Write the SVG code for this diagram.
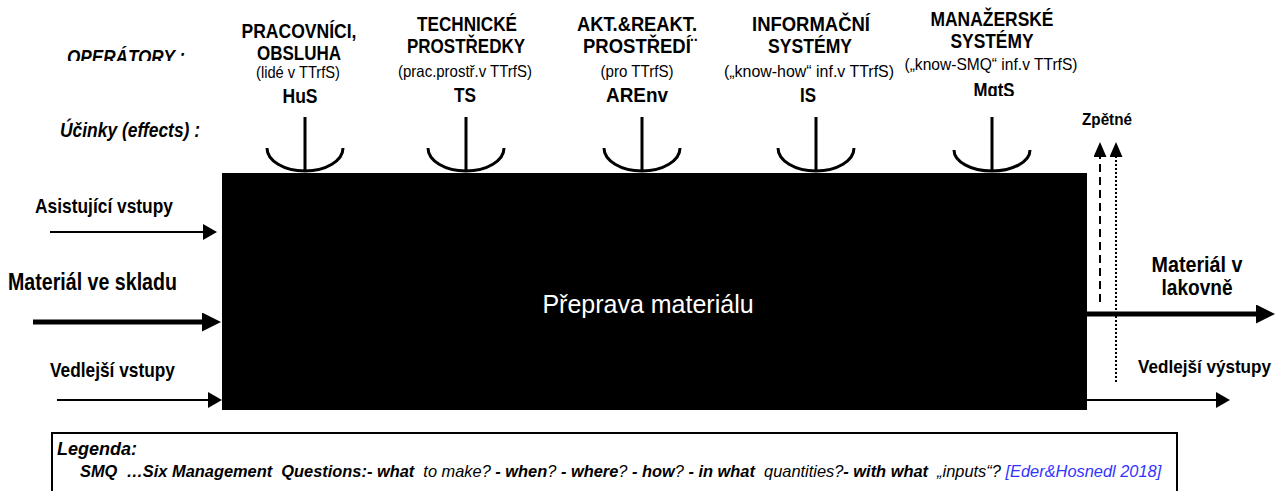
<svg xmlns="http://www.w3.org/2000/svg" width="1284" height="491" viewBox="0 0 1284 491">
<style>
text{font-family:"Liberation Sans",Arial,sans-serif;fill:#000}
.h{font-weight:bold;font-size:20px;text-anchor:middle}
.s{font-size:16.5px;text-anchor:middle}
.lbl{font-weight:bold;font-size:21px}
.it{font-style:italic;font-weight:bold;font-size:20px}
.eff{fill:none;stroke:#000;stroke-width:3}
.thin{stroke:#000;stroke-width:2;fill:none}
.thick{stroke:#000;stroke-width:5;fill:none}
.leg{font-size:16.4px;font-style:italic}
.b{font-weight:bold}
</style>
<defs>
<marker id="ah" viewBox="0 0 14 16" refX="10" refY="8" markerWidth="14" markerHeight="16" orient="auto" markerUnits="userSpaceOnUse"><path d="M0,0 L14,8 L0,16 z" fill="#000"/></marker>
<marker id="ahT" viewBox="0 0 19 19" refX="13" refY="9.5" markerWidth="19" markerHeight="19" orient="auto" markerUnits="userSpaceOnUse"><path d="M0,0 L19,9.5 L0,19 z" fill="#000"/></marker>
<marker id="ahF" viewBox="0 0 15 13" refX="11" refY="6.5" markerWidth="15" markerHeight="13" orient="auto" markerUnits="userSpaceOnUse"><path d="M0,0 L15,6.5 L0,13 z" fill="#000"/></marker>
<clipPath id="cOp"><rect x="0" y="0" width="220" height="61"/></clipPath>
<clipPath id="cMg"><rect x="880" y="0" width="220" height="96"/></clipPath>
</defs>

<g id="labels-left">
<text class="it" x="67" y="64" textLength="118" lengthAdjust="spacingAndGlyphs" clip-path="url(#cOp)">OPERÁTORY :</text>
<text class="it" x="60" y="137" textLength="140" lengthAdjust="spacingAndGlyphs">Účinky (effects) :</text>
</g>

<g id="node-process">
<rect x="222" y="173" width="865" height="237" fill="#000"/>
<text x="648" y="313" style="fill:#fff;font-size:25px" text-anchor="middle">Přeprava materiálu</text>
</g>

<g id="node-HuS">
<text class="h" x="299" y="38" textLength="115" lengthAdjust="spacingAndGlyphs">PRACOVNÍCI,</text>
<text class="h" x="299" y="60" textLength="84" lengthAdjust="spacingAndGlyphs">OBSLUHA</text>
<text class="s" x="298" y="78" textLength="84" lengthAdjust="spacingAndGlyphs">(lidé v TTrfS)</text>
<text class="h" x="300" y="103" textLength="35" lengthAdjust="spacingAndGlyphs">HuS</text>
<path class="eff" d="M305,117 V171 M267,148 A38,23 0 0 0 343,148"/>
</g>

<g id="node-TS">
<text class="h" x="467" y="31" textLength="100" lengthAdjust="spacingAndGlyphs">TECHNICKÉ</text>
<text class="h" x="466" y="53" textLength="118" lengthAdjust="spacingAndGlyphs">PROSTŘEDKY</text>
<text class="s" x="465" y="77" textLength="134" lengthAdjust="spacingAndGlyphs">(prac.prostř.v TTrfS)</text>
<text class="h" x="465" y="102" textLength="22" lengthAdjust="spacingAndGlyphs">TS</text>
<path class="eff" d="M466,117 V171 M428,148 A38,23 0 0 0 504,148"/>
</g>

<g id="node-AREnv">
<text class="h" x="637" y="31" textLength="120" lengthAdjust="spacingAndGlyphs">AKT.&amp;REAKT.</text>
<text class="h" x="640" y="53" textLength="114" lengthAdjust="spacingAndGlyphs">PROSTŘEDÍ¨</text>
<text class="s" x="637" y="77" textLength="73" lengthAdjust="spacingAndGlyphs">(pro TTrfS)</text>
<text class="h" x="637" y="102" textLength="62" lengthAdjust="spacingAndGlyphs">AREnv</text>
<path class="eff" d="M642,117 V171 M604,148 A38,23 0 0 0 680,148"/>
</g>

<g id="node-IS">
<text class="h" x="811" y="31" textLength="118" lengthAdjust="spacingAndGlyphs">INFORMAČNÍ</text>
<text class="h" x="810" y="53" textLength="84" lengthAdjust="spacingAndGlyphs">SYSTÉMY</text>
<text class="s" x="809" y="77" textLength="170" lengthAdjust="spacingAndGlyphs">(„know-how“ inf.v TTrfS)</text>
<text class="h" x="808" y="102" textLength="16" lengthAdjust="spacingAndGlyphs">IS</text>
<path class="eff" d="M816,117 V171 M778,148 A38,23 0 0 0 854,148"/>
</g>

<g id="node-MgtS">
<text class="h" x="992" y="26" textLength="123" lengthAdjust="spacingAndGlyphs">MANAŽERSKÉ</text>
<text class="h" x="992" y="48" textLength="83" lengthAdjust="spacingAndGlyphs">SYSTÉMY</text>
<text class="s" x="991" y="70" textLength="173" lengthAdjust="spacingAndGlyphs">(„know-SMQ“ inf.v TTrfS)</text>
<text class="h" x="994" y="97" textLength="41" lengthAdjust="spacingAndGlyphs" clip-path="url(#cMg)">MgtS</text>
<path class="eff" d="M992,117 V171 M954,150 A38,21 0 0 0 1030,150"/>
</g>

<g id="io-labels">
<text class="lbl" x="35" y="213" textLength="138" lengthAdjust="spacingAndGlyphs">Asistující vstupy</text>
<text class="lbl" x="8" y="290" style="font-size:23px" textLength="169" lengthAdjust="spacingAndGlyphs">Materiál ve skladu</text>
<text class="lbl" x="50" y="377" textLength="125" lengthAdjust="spacingAndGlyphs">Vedlejší vstupy</text>
<text class="lbl" x="1197" y="272" text-anchor="middle" style="font-size:22px" textLength="91" lengthAdjust="spacingAndGlyphs">Materiál v</text>
<text class="lbl" x="1197" y="295" text-anchor="middle" style="font-size:22px" textLength="71" lengthAdjust="spacingAndGlyphs">lakovně</text>
<text class="lbl" x="1138" y="373" style="font-size:18px" textLength="133" lengthAdjust="spacingAndGlyphs">Vedlejší výstupy</text>
<text class="lbl" x="1082" y="125" style="font-size:16px" textLength="50" lengthAdjust="spacingAndGlyphs">Zpětné</text>
</g>

<g id="connectors">
<line class="thin" x1="50" y1="232" x2="213" y2="232" marker-end="url(#ah)"/>
<line class="thick" x1="33" y1="322" x2="215" y2="322" marker-end="url(#ahT)"/>
<line class="thin" x1="57" y1="400" x2="218" y2="400" marker-end="url(#ah)"/>
<line class="thick" x1="1087" y1="314" x2="1269" y2="314" marker-end="url(#ahT)"/>
<line class="thin" x1="1087" y1="400" x2="1226" y2="400" marker-end="url(#ah)"/>
<line class="thin" x1="1100" y1="302" x2="1100" y2="146" stroke-dasharray="8,5" marker-end="url(#ahF)"/>
<line class="thin" x1="1116" y1="382" x2="1116" y2="146" stroke-dasharray="2,2" marker-end="url(#ahF)"/>
</g>

<g id="legend">
<rect x="52" y="433" width="1125" height="70" fill="none" stroke="#000" stroke-width="2"/>
<text class="leg b" x="57" y="455" style="font-size:17.5px" textLength="80" lengthAdjust="spacingAndGlyphs">Legenda:</text>
<text class="leg" x="80" y="477" xml:space="preserve"><tspan class="b">SMQ  …Six Management  Questions:- what </tspan> to make?<tspan class="b"> - when</tspan>?<tspan class="b"> - where</tspan>?<tspan class="b"> - how</tspan>?<tspan class="b"> - in what </tspan> quantities?<tspan class="b">- with what </tspan> „inputs“? <tspan style="fill:#3333ff">[Eder&amp;Hosnedl 2018]</tspan></text>
</g>
</svg>
